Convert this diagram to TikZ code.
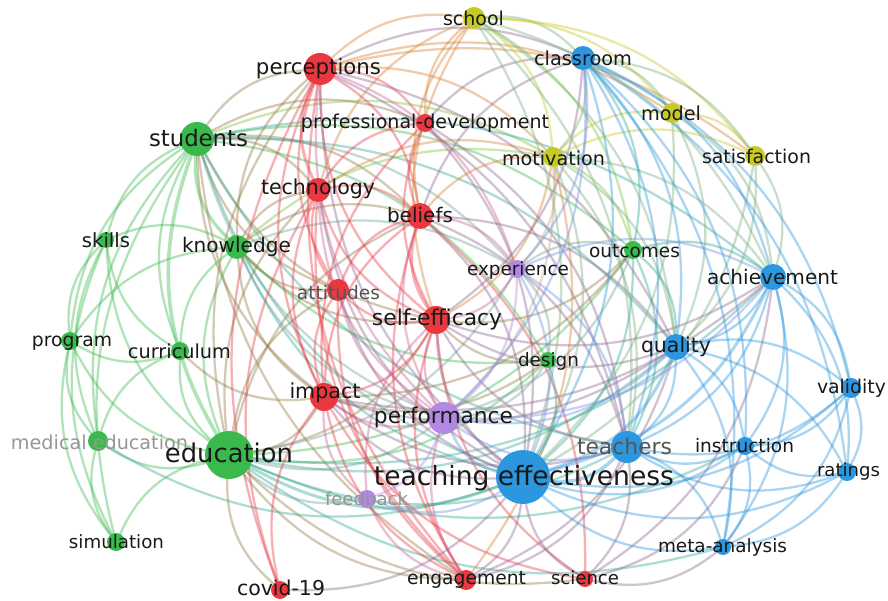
\documentclass[tikz,border=0pt]{standalone}
\usepackage{fontspec}
\setmainfont{DejaVu Sans}
\pgfdeclarelayer{paper}
\pgfdeclarelayer{edges}
\pgfsetlayers{paper,edges,main}

\definecolor{cgreen}{RGB}{58,186,76}
\definecolor{cred}{RGB}{234,56,64}
\definecolor{cyellow}{RGB}{198,202,36}
\definecolor{cblue}{RGB}{44,150,222}
\definecolor{cpurple}{RGB}{178,136,228}
\definecolor{labtext}{RGB}{25,25,25}
\definecolor{labgray}{RGB}{150,150,150}
\definecolor{labdim}{RGB}{85,85,85}

\tikzset{
  dot/.style={circle, draw=none, inner sep=0pt},
  kwlabel/.style={inner sep=0pt, text=labtext},
  edge/.style={opacity=0.4, line cap=round},
}

% keyword: id, x, y, radius, colour, label x, label y, label width, label text
\newcommand\kw[9]{%
  \expandafter\def\csname kx@#1\endcsname{#2}%
  \expandafter\def\csname ky@#1\endcsname{#3}%
  \expandafter\def\csname kc@#1\endcsname{#5}%
  \node[dot, fill=#5, minimum size={2*#4pt}] (#1) at (#2,600-#3) {};
  \node[kwlabel] (#1-l) at (#6,600-#7) {\resizebox{#8pt}{!}{#9}};
}

% link between two keywords; arcs bulge away from the map centre,
% coloured with a mix of both cluster colours
\newcommand\lnk[3][2.3]{%
  \pgfmathsetmacro\lnkc{((\csname kx@#2\endcsname-444)/10)*((\csname ky@#3\endcsname-300)/10)-((\csname ky@#2\endcsname-300)/10)*((\csname kx@#3\endcsname-444)/10)}%
  \pgfmathsetmacro\lnkb{\lnkc>0 ? 25 : -25}%
  \draw[edge, line width=#1pt, draw={\csname kc@#2\endcsname!50!\csname kc@#3\endcsname}] (#2) to[bend left=\lnkb] (#3);
}
\newcommand\lnks[2]{\foreach \tgt in {#2} {\lnk{#1}{\tgt}}}

\begin{document}
\begin{tikzpicture}[x=1pt,y=1pt]
\useasboundingbox (0,0) rectangle (888,600);
\begin{pgfonlayer}{paper}
\fill[white] (0,0) rectangle (888,600);
\end{pgfonlayer}

% green cluster
\kw{students}{197}{139}{17}{cgreen}{198.5}{138}{99}{students}
\kw{skills}{106}{240}{8}{cgreen}{106}{240}{48}{skills}
\kw{knowledge}{237}{247}{12}{cgreen}{236.5}{247}{109}{knowledge}
\kw{program}{70}{341}{9}{cgreen}{72}{343}{80}{program}
\kw{curriculum}{180}{351}{9}{cgreen}{179.5}{351}{103}{curriculum}
\kw{meded}{98}{441}{10}{cgreen}{99.5}{442}{177}{\color{labgray}medical education}
\kw{education}{229}{455}{24}{cgreen}{229}{453}{128}{education}
\kw{simulation}{116}{542}{9}{cgreen}{116.5}{542}{95}{simulation}
\kw{design}{548}{360}{8}{cgreen}{548.5}{361}{61}{design}
\kw{outcomes}{633}{250}{9}{cgreen}{634.5}{251}{91}{outcomes}

% red cluster
\kw{perceptions}{320}{69}{16}{cred}{318.5}{69}{125}{perceptions}
\kw{profdev}{425}{123}{9}{cred}{425}{123}{248}{professional-development}
\kw{technology}{318}{190}{12}{cred}{318}{189}{114}{technology}
\kw{beliefs}{420}{216}{13}{cred}{420}{215}{66}{beliefs}
\kw{attitudes}{338}{290}{11}{cred}{338.5}{293}{83}{\color{labdim}attitudes}
\kw{selfeff}{436}{320}{14}{cred}{437}{319}{130}{self-efficacy}
\kw{impact}{324}{397}{14}{cred}{325}{393}{71}{impact}
\kw{covid}{280}{590}{9}{cred}{281}{588}{88}{covid-19}
\kw{engagement}{466}{580}{10}{cred}{466.5}{580}{119}{engagement}
\kw{science}{585}{579}{8}{cred}{585}{578}{68}{science}

% yellow cluster
\kw{school}{474}{18}{11}{cyellow}{473.5}{18}{61}{school}
\kw{model}{672}{113}{10}{cyellow}{671}{113}{60}{model}
\kw{motivation}{553}{157}{10}{cyellow}{553.5}{158}{103}{motivation}
\kw{satisfaction}{755}{156}{10}{cyellow}{756.5}{156}{109}{satisfaction}

% blue cluster
\kw{classroom}{583}{58}{12}{cblue}{583}{58}{98}{classroom}
\kw{achievement}{773}{277}{13}{cblue}{772.5}{277}{131}{achievement}
\kw{quality}{676}{347}{13}{cblue}{676}{347}{70}{quality}
\kw{validity}{851}{388}{10}{cblue}{851.5}{388}{69}{validity}
\kw{teachers}{627}{447}{16}{cblue}{624.5}{446}{95}{\color{labdim}teachers}
\kw{instruction}{745}{446}{9}{cblue}{744.5}{446}{99}{instruction}
\kw{ratings}{847}{472}{9}{cblue}{848.5}{472}{63}{ratings}
\kw{teff}{523}{477}{27}{cblue}{524}{478}{300}{teaching effectiveness}
\kw{metaanalysis}{723}{547}{8}{cblue}{722.5}{547}{129}{meta-analysis}

% purple cluster
\kw{experience}{517}{269}{9}{cpurple}{518}{270}{102}{experience}
\kw{performance}{444}{418}{16}{cpurple}{443.5}{418}{139}{performance}
\kw{feedback}{367}{499}{9}{cpurple}{366.5}{499}{83}{\color{labgray}feedback}

% co-occurrence links, all behind the keywords
\begin{pgfonlayer}{edges}
\lnk[3.6]{students}{education}
\lnk[3.2]{students}{knowledge}
\lnk[3.6]{teff}{teachers}
\lnk[3.2]{teff}{quality}
\lnk[3.0]{teff}{achievement}
\lnk[3.0]{perceptions}{technology}
\lnk[3.0]{beliefs}{selfeff}
\lnk[3.0]{education}{teff}
\lnk[2.8]{selfeff}{teff}
\lnk[2.8]{performance}{teff}

\lnks{students}{skills,program,curriculum,meded,perceptions,technology,beliefs,attitudes,selfeff,impact,performance,teff,motivation,design,experience,outcomes,engagement,profdev,teachers,quality,achievement,simulation}
\lnks{education}{knowledge,skills,program,curriculum,meded,simulation,covid,impact,selfeff,performance,technology,perceptions,attitudes,beliefs,feedback,engagement,design,quality,teachers,outcomes,experience,science,instruction,metaanalysis,achievement}
\lnks{knowledge}{skills,curriculum,perceptions,technology,beliefs,attitudes,selfeff,impact,performance,teff,program,design,motivation,experience}
\lnks{skills}{program,curriculum,meded,simulation}
\lnks{program}{curriculum,meded,simulation}
\lnks{curriculum}{meded,impact}
\lnks{meded}{simulation,teff}
\lnks{perceptions}{profdev,beliefs,attitudes,selfeff,impact,school,teff,performance,engagement,covid,classroom,motivation,satisfaction,model,teachers,experience,quality}
\lnks{profdev}{beliefs,selfeff,teachers,teff,classroom,impact,technology,school}
\lnks{technology}{beliefs,attitudes,selfeff,impact,teff,performance,engagement,covid,motivation,school}
\lnks{beliefs}{attitudes,impact,teff,teachers,experience,performance,engagement,classroom,school,motivation,science,quality}
\lnks{attitudes}{selfeff,impact,teff,performance,engagement}
\lnks{selfeff}{impact,performance,teachers,experience,engagement,science,motivation,achievement,quality,outcomes,design,feedback,school,classroom}
\lnks{impact}{performance,teff,engagement,covid,feedback,science,teachers,quality,achievement,outcomes,design}
\lnks{engagement}{teff,performance,feedback,teachers,quality,motivation}
\lnks{science}{teff,teachers,metaanalysis,achievement,instruction}
\lnks{covid}{teff}
\lnks{school}{classroom,motivation,model,satisfaction,teff,achievement,teachers,outcomes,quality}
\lnks{model}{satisfaction,classroom,motivation,achievement,quality,teff}
\lnks{motivation}{classroom,satisfaction,teff,performance,achievement,experience,outcomes,teachers,quality}
\lnks{satisfaction}{classroom,achievement,teff,quality}
\lnks{classroom}{achievement,teff,teachers,quality,validity,instruction,ratings,outcomes,experience,metaanalysis,performance}
\lnks{achievement}{validity,ratings,teachers,quality,instruction,metaanalysis,outcomes,experience,performance}
\lnks{quality}{teachers,validity,instruction,ratings,metaanalysis,outcomes,performance}
\lnks{validity}{ratings,teff,teachers,instruction,metaanalysis}
\lnks{teachers}{instruction,ratings,metaanalysis,performance,outcomes,experience}
\lnks{instruction}{teff,ratings,metaanalysis}
\lnks{ratings}{teff,metaanalysis}
\lnks{teff}{feedback,experience,outcomes,design,metaanalysis}
\lnks{experience}{performance,outcomes,design}
\lnks{performance}{feedback,outcomes,design}
\end{pgfonlayer}
\end{tikzpicture}
\end{document}
